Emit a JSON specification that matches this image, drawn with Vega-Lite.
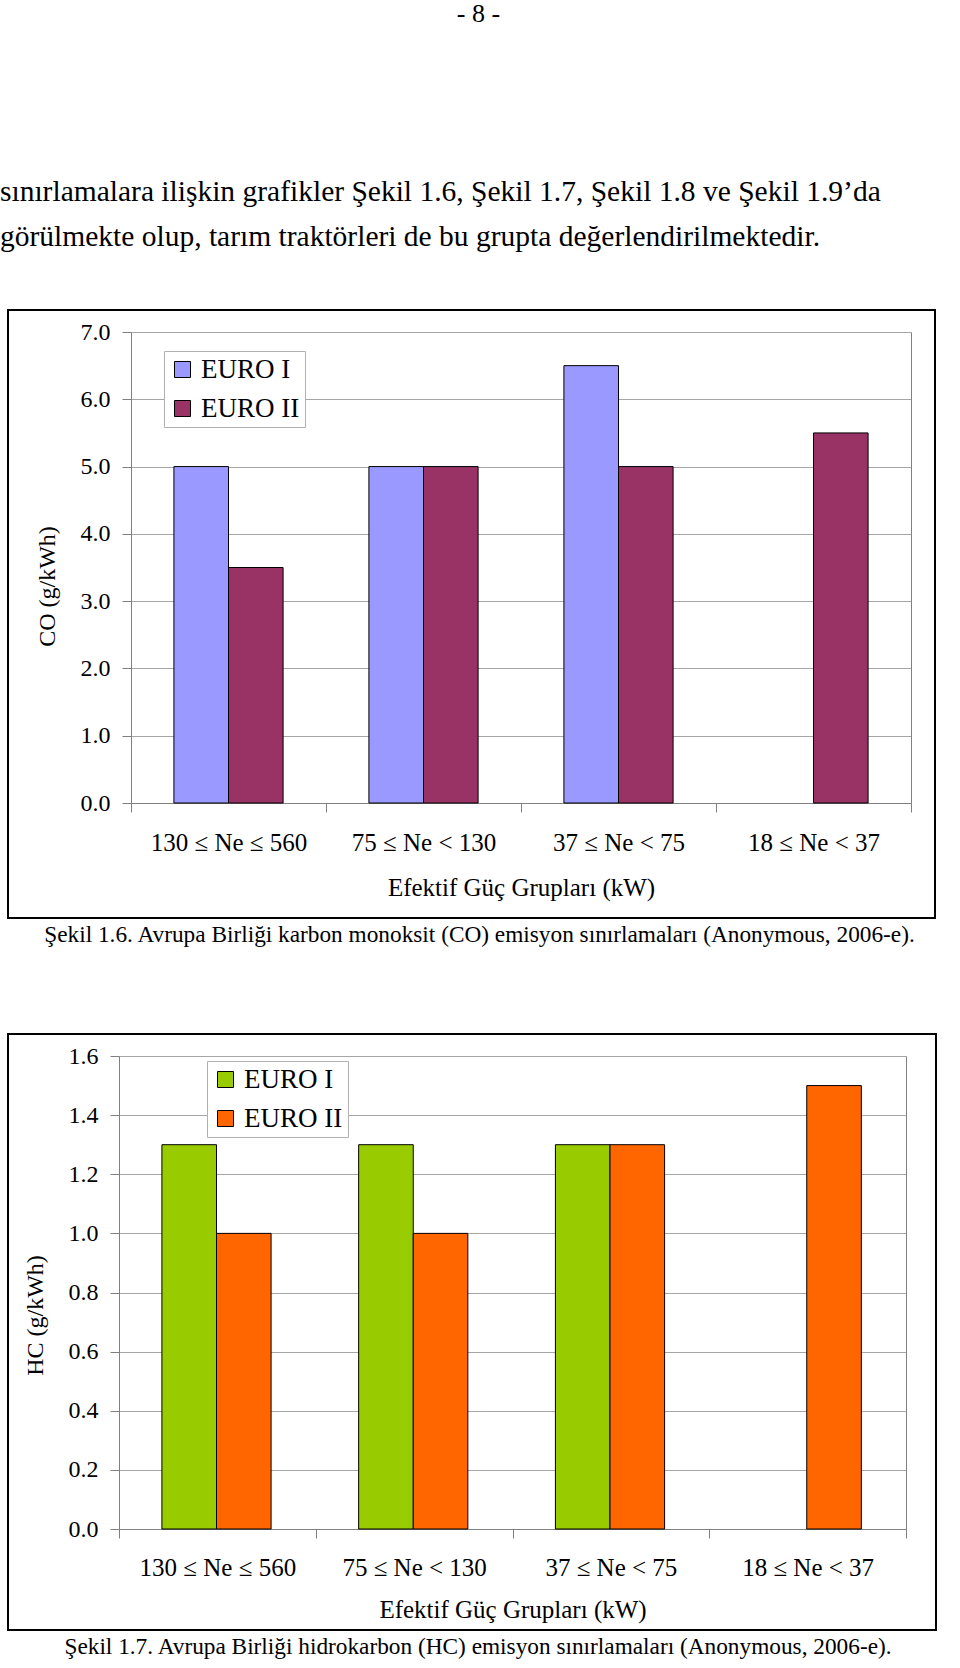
{
  "$schema": "https://vega.github.io/schema/vega-lite/v6.json",
  "padding": 0,
  "background": "white",
  "title": {"text": "- 8 -", "anchor": "middle", "frame": "bounds", "fontSize": 26, "dx": 10, "offset": 150},
  "spacing": 85,
  "resolve": {"scale": {"color": "independent"}, "legend": {"color": "independent"}},
  "vconcat": [
    {
      "title": {
        "text": ["sınırlamalara ilişkin grafikler Şekil 1.6, Şekil 1.7, Şekil 1.8 ve Şekil 1.9’da", "görülmekte olup, tarım traktörleri de bu grupta değerlendirilmektedir."],
        "anchor": "start", "frame": "group", "fontSize": 29.5, "lineHeight": 45, "dx": -8, "offset": 57
      },
      "vconcat": [
        {
          "width": 927,
          "height": 608,
          "title": {"text": "Şekil 1.6. Avrupa Birliği karbon monoksit (CO) emisyon sınırlamaları (Anonymous, 2006-e).", "orient": "bottom", "anchor": "middle", "fontSize": 23.3, "dx": 8, "offset": 6},
          "data": {"values": [
            {"group": "130 ≤ Ne ≤ 560", "series": "EURO I", "value": 5.0},
            {"group": "130 ≤ Ne ≤ 560", "series": "EURO II", "value": 3.5},
            {"group": "75 ≤ Ne < 130", "series": "EURO I", "value": 5.0},
            {"group": "75 ≤ Ne < 130", "series": "EURO II", "value": 5.0},
            {"group": "37 ≤ Ne < 75", "series": "EURO I", "value": 6.5},
            {"group": "37 ≤ Ne < 75", "series": "EURO II", "value": 5.0},
            {"group": "18 ≤ Ne < 37", "series": "EURO II", "value": 5.5}
          ]},
          "layer": [
            {
              "mark": {"type": "bar", "stroke": "black", "strokeWidth": 1},
              "encoding": {
                "x": {"field": "group", "type": "nominal", "sort": null,
                  "scale": {"range": [123, 903], "paddingInner": 0, "paddingOuter": 0},
                  "axis": {"orient": "bottom", "offset": -115, "tickBand": "extent", "domainColor": "#808080", "tickColor": "#808080", "tickSize": 9, "labelFontSize": 25, "labelColor": "black", "labelAngle": 0, "labelBaseline": "alphabetic", "labelPadding": 38, "grid": false,
                    "title": "Efektif Güç Grupları (kW)", "titleFontSize": 25, "titleFontWeight": "normal", "titleColor": "black", "titleY": 92, "titleBaseline": "alphabetic"}},
                "xOffset": {"field": "series", "type": "nominal", "scale": {"domain": ["EURO I", "EURO II"], "paddingInner": 0, "paddingOuter": 0.786}},
                "y": {"field": "value", "type": "quantitative",
                  "scale": {"domain": [0, 7], "range": [493, 22], "nice": false, "zero": true},
                  "axis": {"orient": "left", "offset": -123, "values": [0, 1, 2, 3, 4, 5, 6, 7], "format": ".1f", "domainColor": "#808080", "tickColor": "#808080", "tickSize": 9, "gridColor": "#a6a6a6", "labelFontSize": 24, "labelColor": "black", "labelPadding": 12,
                    "title": "CO (g/kWh)", "titleFontSize": 24, "titleFontWeight": "normal", "titleColor": "black", "titleX": -84, "titleY": 276, "titleBaseline": "middle"}},
                "color": {"field": "series", "type": "nominal",
                  "scale": {"domain": ["EURO I", "EURO II"], "range": ["#9999FF", "#993366"]},
                  "legend": {"orient": "none", "legendX": 156, "legendY": 41, "title": null, "strokeColor": "#b0b0b0", "fillColor": "white", "padding": 5, "symbolType": "square", "symbolSize": 256, "symbolStrokeColor": "black", "symbolStrokeWidth": 1, "labelFontSize": 27, "labelColor": "black", "labelOffset": 5, "rowPadding": 11}}
              }
            },
            {
              "mark": {"type": "rule", "opacity": 0},
              "encoding": {
                "y": {"field": "value", "type": "quantitative",
                  "scale": {"domain": [0, 7], "range": [493, 22], "nice": false, "zero": true},
                  "axis": {"orient": "right", "offset": -24, "domainColor": "#808080", "ticks": false, "labels": false, "grid": false, "title": null}}
              }
            }
          ],
          "resolve": {"axis": {"y": "independent"}}
        }
      ]
    },
    {
      "width": 928,
      "height": 596,
      "title": {"text": "Şekil 1.7. Avrupa Birliği hidrokarbon (HC) emisyon sınırlamaları (Anonymous, 2006-e).", "orient": "bottom", "anchor": "middle", "fontSize": 23.3, "dx": 6, "offset": 6},
      "data": {"values": [
        {"group": "130 ≤ Ne ≤ 560", "series": "EURO I", "value": 1.3},
        {"group": "130 ≤ Ne ≤ 560", "series": "EURO II", "value": 1.0},
        {"group": "75 ≤ Ne < 130", "series": "EURO I", "value": 1.3},
        {"group": "75 ≤ Ne < 130", "series": "EURO II", "value": 1.0},
        {"group": "37 ≤ Ne < 75", "series": "EURO I", "value": 1.3},
        {"group": "37 ≤ Ne < 75", "series": "EURO II", "value": 1.3},
        {"group": "18 ≤ Ne < 37", "series": "EURO II", "value": 1.5}
      ]},
      "layer": [
        {
          "mark": {"type": "bar", "stroke": "black", "strokeWidth": 1},
          "encoding": {
            "x": {"field": "group", "type": "nominal", "sort": null,
              "scale": {"range": [111, 898], "paddingInner": 0, "paddingOuter": 0},
              "axis": {"orient": "bottom", "offset": -101, "tickBand": "extent", "domainColor": "#808080", "tickColor": "#808080", "tickSize": 9, "labelFontSize": 25, "labelColor": "black", "labelAngle": 0, "labelBaseline": "alphabetic", "labelPadding": 37, "grid": false,
                "title": "Efektif Güç Grupları (kW)", "titleFontSize": 25, "titleFontWeight": "normal", "titleColor": "black", "titleY": 88, "titleBaseline": "alphabetic"}},
            "xOffset": {"field": "series", "type": "nominal", "scale": {"domain": ["EURO I", "EURO II"], "paddingInner": 0, "paddingOuter": 0.757}},
            "y": {"field": "value", "type": "quantitative",
              "scale": {"domain": [0, 1.6], "range": [495, 22], "nice": false, "zero": true},
              "axis": {"orient": "left", "offset": -111, "values": [0, 0.2, 0.4, 0.6, 0.8, 1.0, 1.2, 1.4, 1.6], "format": ".1f", "domainColor": "#808080", "tickColor": "#808080", "tickSize": 9, "gridColor": "#a6a6a6", "labelFontSize": 24, "labelColor": "black", "labelPadding": 12,
                "title": "HC (g/kWh)", "titleFontSize": 24, "titleFontWeight": "normal", "titleColor": "black", "titleX": -84, "titleY": 281, "titleBaseline": "middle"}},
            "color": {"field": "series", "type": "nominal",
              "scale": {"domain": ["EURO I", "EURO II"], "range": ["#99CC00", "#FF6600"]},
              "legend": {"orient": "none", "legendX": 199, "legendY": 27, "title": null, "strokeColor": "#b0b0b0", "fillColor": "white", "padding": 5, "symbolType": "square", "symbolSize": 256, "symbolStrokeColor": "black", "symbolStrokeWidth": 1, "labelFontSize": 27, "labelColor": "black", "labelOffset": 5, "rowPadding": 11}}
          }
        },
        {
          "mark": {"type": "rule", "opacity": 0},
          "encoding": {
            "y": {"field": "value", "type": "quantitative",
              "scale": {"domain": [0, 1.6], "range": [495, 22], "nice": false, "zero": true},
              "axis": {"orient": "right", "offset": -30, "domainColor": "#808080", "ticks": false, "labels": false, "grid": false, "title": null}}
          }
        }
      ],
      "resolve": {"axis": {"y": "independent"}}
    }
  ],
  "config": {
    "font": "Liberation Serif",
    "title": {"fontWeight": "normal", "color": "black", "subtitleColor": "black"},
    "view": {"stroke": "black", "strokeWidth": 2, "fill": "white"}
  }
}
